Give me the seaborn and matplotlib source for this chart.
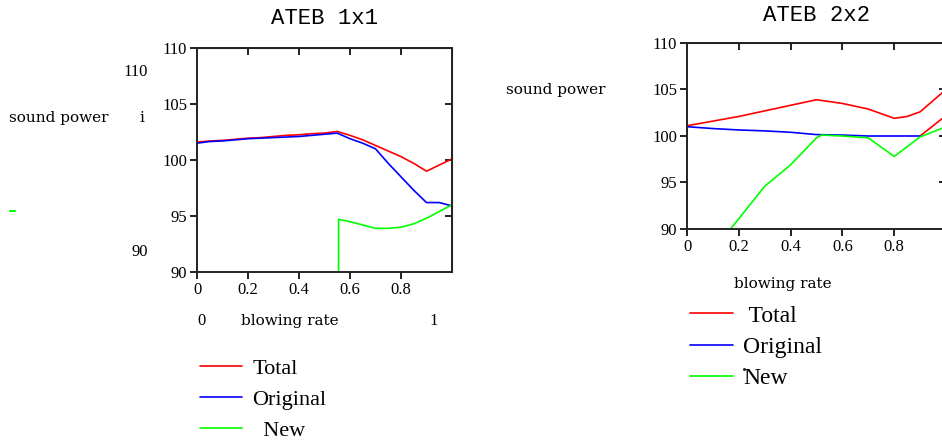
import numpy as np
import pandas as pd
import matplotlib
matplotlib.use("Agg")
import matplotlib.pyplot as plt
from matplotlib.lines import Line2D
import seaborn as sns

# ---- ATEB 1x1 ----
x_total_1 = [0, 0.05, 0.1, 0.15, 0.2, 0.25, 0.3, 0.35, 0.4, 0.45, 0.5, 0.55, 0.6,
             0.65, 0.7, 0.75, 0.8, 0.85, 0.9, 0.95, 1.0]
total_1 = [101.6, 101.7, 101.75, 101.85, 101.95, 102.0, 102.1, 102.2, 102.25, 102.35,
           102.4, 102.55, 102.2, 101.8, 101.3, 100.8, 100.3, 99.7, 99.0, 99.55, 100.1]
original_1 = [101.5, 101.65, 101.7, 101.8, 101.9, 101.95, 102.0, 102.05, 102.1, 102.2,
              102.3, 102.4, 101.9, 101.5, 101.0, 99.7, 98.5, 97.3, 96.2, 96.2, 95.9]
x_new_1 = [0.555, 0.555, 0.6, 0.65, 0.7, 0.75, 0.8, 0.85, 0.9, 0.95, 1.0]
new_1 = [85.0, 94.7, 94.5, 94.2, 93.9, 93.9, 94.0, 94.3, 94.8, 95.4, 96.0]

# ---- ATEB 2x2 ----
x_total_2 = [0, 0.1, 0.2, 0.3, 0.4, 0.5, 0.6, 0.7, 0.8, 0.85, 0.9, 1.0]
total_2 = [101.1, 101.6, 102.1, 102.7, 103.3, 103.9, 103.5, 102.9, 101.9, 102.1, 102.6, 105.0]
x_total_2b = [0.9, 1.0]
total_2b = [100.0, 102.2]
x_original_2 = [0, 0.1, 0.2, 0.3, 0.4, 0.5, 0.6, 0.7, 0.8, 0.9]
original_2 = [101.0, 100.8, 100.65, 100.55, 100.4, 100.15, 100.1, 100.0, 100.0, 100.0]
x_new_2 = [0.1, 0.2, 0.3, 0.4, 0.5, 0.52, 0.6, 0.7, 0.8, 0.9, 1.0]
new_2 = [87.7, 91.1, 94.6, 96.9, 99.8, 100.1, 100.0, 99.8, 97.8, 99.9, 101.0]

x_ticks = [0, 0.2, 0.4, 0.6, 0.8]
x_tick_labels = ["0", "0.2", "0.4", "0.6", "0.8"]
y_ticks = [90, 95, 100, 105, 110]
series_names = ["Total", "Original", "New"]
colors = {"Total": "#ff0000", "Original": "#0000ff", "New": "#00ff00"}


def long_frame(parts):
    rows = []
    for seg, (name, xs, ys) in enumerate(parts):
        for xv, yv in zip(xs, ys):
            rows.append({"x": xv, "y": yv, "series": name, "seg": seg})
    return pd.DataFrame(rows)


df1 = long_frame([("Total", x_total_1, total_1),
                  ("Original", x_total_1, original_1),
                  ("New", x_new_1, new_1)])
df2 = long_frame([("Total", x_total_2, total_2),
                  ("Total", x_total_2b, total_2b),
                  ("Original", x_original_2, original_2),
                  ("New", x_new_2, new_2)])

sns.set_style("white")
plt.rcParams["font.family"] = ["Liberation Serif", "DejaVu Serif"]
plt.rcParams["text.color"] = "black"
plt.rcParams["xtick.color"] = "#222222"
plt.rcParams["ytick.color"] = "#222222"
plt.rcParams["xtick.labelcolor"] = "black"
plt.rcParams["ytick.labelcolor"] = "black"

fig = plt.figure(figsize=(9.42, 4.46), dpi=100)
ax1 = fig.add_axes([197 / 942, 1 - 272 / 446, 255 / 942, 224 / 446])
ax2 = fig.add_axes([687 / 942, 1 - 229 / 446, 259 / 942, 186 / 446])


def style_axes(ax, df):
    sns.lineplot(data=df, x="x", y="y", hue="series", units="seg", estimator=None,
                 sort=False, palette=colors, hue_order=series_names,
                 linewidth=1.2, legend=False, ax=ax)
    ax.set_xlim(0, 1)
    ax.set_ylim(90, 110)
    ax.set_xticks(x_ticks)
    ax.set_xticklabels(x_tick_labels)
    ax.set_yticks(y_ticks)
    ax.set_xlabel("")
    ax.set_ylabel("")
    for sp in ax.spines.values():
        sp.set_visible(True)
        sp.set_color("#222222")
        sp.set_linewidth(1.4)
    ax.tick_params(direction="out", length=5, width=1.4,
                   labelsize=12, pad=2, bottom=True, left=True)
    # inward ticks on the mirrored sides
    top = ax.secondary_xaxis("top")
    top.set_xticks([0.2, 0.4, 0.6, 0.8])
    top.tick_params(direction="in", length=5, width=1.4, labeltop=False)
    right = ax.secondary_yaxis("right")
    right.set_yticks([95, 100, 105])
    right.tick_params(direction="in", length=5, width=1.4, labelright=False)


style_axes(ax1, df1)
style_axes(ax2, df2)

ax1.set_title("ATEB 1x1", fontfamily="Liberation Mono", fontsize=16, pad=17)
ax2.set_title("ATEB 2x2", fontfamily="Liberation Mono", fontsize=16, pad=16)

W, H = 942, 446


def ftext(px, py, s, **kw):
    fig.text(px / W, 1 - py / H, s, ha="center", va="center", **kw)


serif_wide = ["DejaVu Serif"]
# left panel annotations
ftext(59, 118, "sound power", family=serif_wide, fontsize=11)
ftext(142, 118, "i", family=serif_wide, fontsize=11)
ftext(136, 72, "110", fontsize=12)
ftext(140, 252, "90", fontsize=12)
ftext(202, 321, "0", fontsize=12)
ftext(290, 321, "blowing rate", family=serif_wide, fontsize=11)
ftext(434, 321, "1", fontsize=12)
fig.add_artist(Line2D([10 / W, 15 / W], [1 - 211 / H, 1 - 211 / H],
                      color="#00ff00", linewidth=1.5))

# right panel annotations
ftext(556, 90, "sound power", family=serif_wide, fontsize=11)
ftext(783, 284, "blowing rate", family=serif_wide, fontsize=11)

handles = [Line2D([], [], color=colors[n], linewidth=1.2) for n in series_names]
leg1 = fig.legend(handles, ["Total", "Original", "  New"], loc="upper left",
                  bbox_to_anchor=(200 / W, 1 - 358 / H), frameon=False,
                  fontsize=16, handlelength=1.9, handletextpad=0.45,
                  labelspacing=0.47, borderaxespad=0, borderpad=0)
leg2 = fig.legend(handles, [" Total", "Original", "New"], loc="upper left",
                  bbox_to_anchor=(690 / W, 1 - 305 / H), frameon=False,
                  fontsize=17, handlelength=1.8, handletextpad=0.45,
                  labelspacing=0.42, borderaxespad=0, borderpad=0)
fig.add_artist(Line2D([744 / W], [1 - 369 / H], marker="o", markersize=1.2,
                      color="#333333", linestyle="none"))

fig.savefig("out.png", dpi=100)
